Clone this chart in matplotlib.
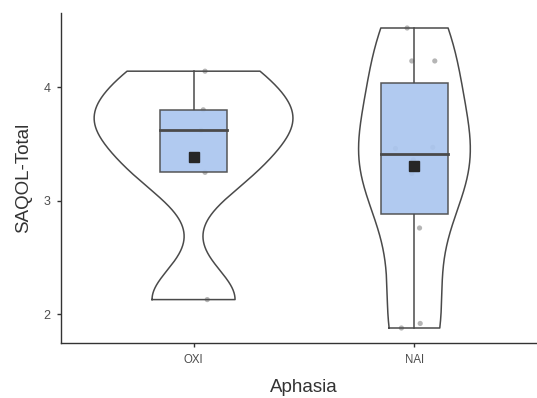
import numpy as np
import matplotlib
matplotlib.use("Agg")
import matplotlib.pyplot as plt
from matplotlib.patches import Rectangle

# ---- data ----
categories = ["OXI", "NAI"]
oxi_values = [4.14, 3.80, 3.62, 3.25, 2.13]
oxi_jitter = [0.052, 0.044, 0.034, 0.052, 0.062]
nai_values = [4.52, 4.23, 4.23, 3.47, 3.46, 3.36, 3.24, 2.76, 1.92, 1.88]
nai_jitter = [-0.033, -0.012, 0.092, 0.083, -0.086, -0.005, -0.012, 0.023, 0.026, -0.059]
yticks = [2, 3, 4]
xlabel = "Aphasia"
ylabel = "SAQOL-Total"

groups = [np.array(oxi_values), np.array(nai_values)]
jitters = [np.array(oxi_jitter), np.array(nai_jitter)]

plt.rcParams['font.family'] = ['Liberation Sans', 'DejaVu Sans']

W, H, DPI = 537, 398, 100
fig = plt.figure(figsize=(W / DPI, H / DPI), dpi=DPI)
left_px, right_px, top_px, bottom_px = 61, 547, 13, 343
ax = fig.add_axes([left_px / W, 1 - bottom_px / H,
                   (right_px - left_px) / W, (bottom_px - top_px) / H])

line_col = "#4a4a4a"


def nrd0(x):
    sd = np.std(x, ddof=1)
    q75, q25 = np.percentile(x, [75, 25])
    lo = min(sd, (q75 - q25) / 1.34)
    return 0.9 * lo * len(x) ** (-0.2)


dens = []
for x in groups:
    bw = nrd0(x)
    ys = np.linspace(x.min(), x.max(), 512)
    d = np.exp(-0.5 * ((ys[:, None] - x[None, :]) / bw) ** 2).sum(1) / (len(x) * bw * np.sqrt(2 * np.pi))
    dens.append((ys, d))
maxd = max(d.max() for _, d in dens)

for i, (x, jit, (ys, d)) in enumerate(zip(groups, jitters, dens)):
    pos = i + 1
    # jittered points
    ax.scatter(pos + jit, x, s=14, color="#858585", alpha=0.6, edgecolors="none", zorder=1)
    # violin (area scaled, trimmed)
    hw = d / maxd * 0.45
    vx = np.concatenate([pos - hw, (pos + hw)[::-1], [pos - hw[0]]])
    vy = np.concatenate([ys, ys[::-1], [ys[0]]])
    ax.plot(vx, vy, color=line_col, lw=1.1, zorder=2)
    # boxplot (outliers hidden)
    q1, med, q3 = np.percentile(x, [25, 50, 75])
    iqr = q3 - q1
    upper = x[x <= q3 + 1.5 * iqr].max()
    lower = x[x >= q1 - 1.5 * iqr].min()
    ax.plot([pos, pos], [q3, upper], color=line_col, lw=1.1, zorder=3)
    ax.plot([pos, pos], [lower, q1], color=line_col, lw=1.1, zorder=3)
    ax.add_patch(Rectangle((pos - 0.15, q1), 0.3, q3 - q1, facecolor="#abc6ef",
                           alpha=0.92, edgecolor=line_col, lw=1.1, zorder=4))
    ax.plot([pos - 0.15, pos + 0.15], [med, med], color=line_col, lw=2.0, zorder=5)
    # mean
    ax.plot([pos], [x.mean()], marker="s", markersize=7, color="#262626", zorder=6)

allv = np.concatenate(groups)
rng = allv.max() - allv.min()
ax.set_ylim(allv.min() - 0.05 * rng, allv.max() + 0.05 * rng)
ax.set_xlim(0.4, 2.6)
ax.set_xticks([1, 2])
ax.set_xticklabels(categories)
ax.set_yticks(yticks)
for s in ["top", "right"]:
    ax.spines[s].set_visible(False)
for s in ["left", "bottom"]:
    ax.spines[s].set_color("#333333")
    ax.spines[s].set_linewidth(1.0)
ax.tick_params(axis="both", colors="#333333", length=3, width=1.0,
               labelcolor="#4d4d4d")
ax.tick_params(axis="x", pad=5, labelsize=8.3)
ax.tick_params(axis="y", pad=4.5, labelsize=9)
ax.set_xlabel(xlabel, fontsize=13.5, color="#333333", labelpad=9)
ax.set_ylabel(ylabel, fontsize=13.5, color="#333333", labelpad=8)

fig.savefig("out.png", dpi=DPI)
